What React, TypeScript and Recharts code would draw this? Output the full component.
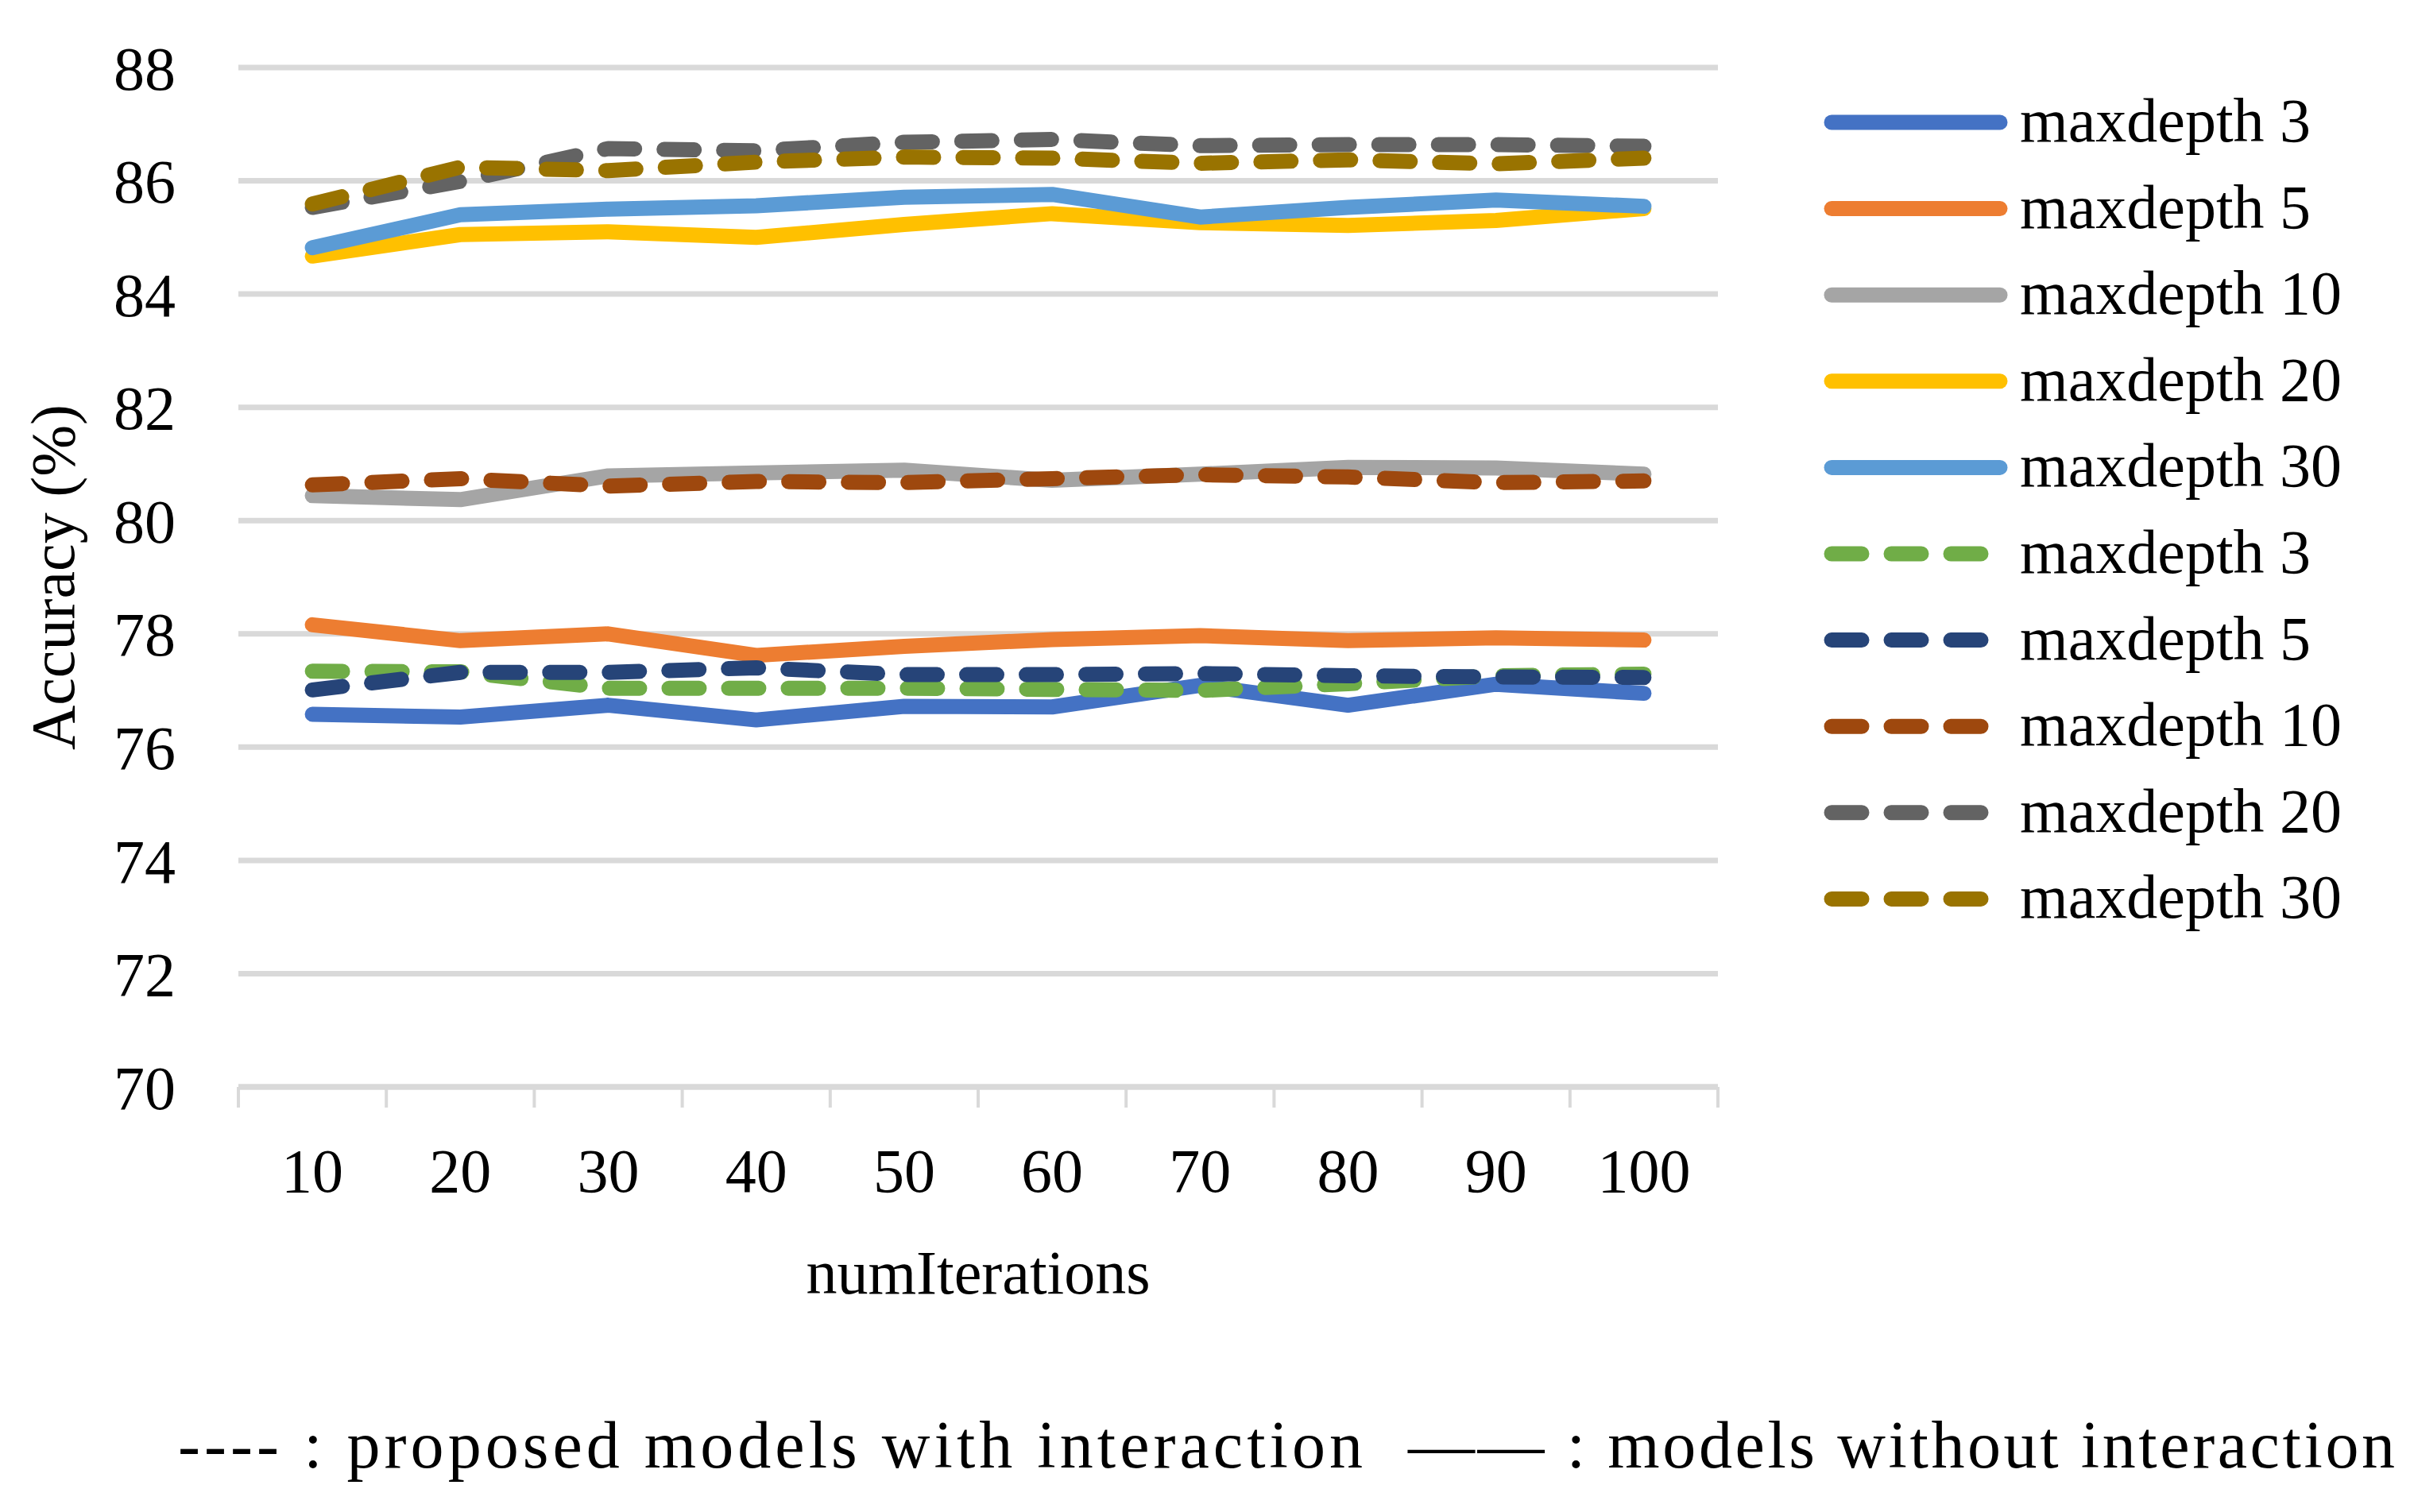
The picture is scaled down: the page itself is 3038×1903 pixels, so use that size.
import { LineChart, Line, XAxis, YAxis, CartesianGrid } from 'recharts';

// numIterations on the x axis
const iterations = [10, 20, 30, 40, 50, 60, 70, 80, 90, 100];
const accuracyTicks = [70, 72, 74, 76, 78, 80, 82, 84, 86, 88];

// models without interaction (solid lines)
const plainDepth3 = [76.58, 76.53, 76.74, 76.48, 76.72, 76.71, 77.09, 76.74, 77.11, 76.95];
const plainDepth5 = [78.16, 77.88, 78.0, 77.62, 77.78, 77.9, 77.97, 77.88, 77.93, 77.89];
const plainDepth10 = [80.44, 80.37, 80.79, 80.84, 80.89, 80.71, 80.82, 80.94, 80.93, 80.82];
const plainDepth20 = [84.67, 85.05, 85.1, 85.0, 85.23, 85.42, 85.26, 85.21, 85.3, 85.51];
const plainDepth30 = [84.82, 85.4, 85.5, 85.56, 85.71, 85.76, 85.36, 85.53, 85.66, 85.55];

// proposed models with interaction (dashed lines)
const interDepth3 = [77.34, 77.33, 77.04, 77.04, 77.04, 77.02, 77.0, 77.12, 77.26, 77.29];
const interDepth5 = [77.01, 77.32, 77.32, 77.4, 77.28, 77.28, 77.3, 77.26, 77.24, 77.23];
const interDepth10 = [80.63, 80.74, 80.61, 80.69, 80.67, 80.74, 80.81, 80.77, 80.67, 80.7];
const interDepth20 = [85.53, 85.99, 86.57, 86.53, 86.68, 86.73, 86.62, 86.64, 86.64, 86.61];
const interDepth30 = [85.59, 86.24, 86.18, 86.33, 86.42, 86.4, 86.31, 86.37, 86.3, 86.4];

const series = [
  { key: 'plain3', name: 'maxdepth 3', values: plainDepth3, color: '#4472c4', dashed: false },
  { key: 'plain5', name: 'maxdepth 5', values: plainDepth5, color: '#ed7d31', dashed: false },
  { key: 'plain10', name: 'maxdepth 10', values: plainDepth10, color: '#a5a5a5', dashed: false },
  { key: 'plain20', name: 'maxdepth 20', values: plainDepth20, color: '#ffc000', dashed: false },
  { key: 'plain30', name: 'maxdepth 30', values: plainDepth30, color: '#5b9bd5', dashed: false },
  { key: 'inter3', name: 'maxdepth 3', values: interDepth3, color: '#70ad47', dashed: true },
  { key: 'inter5', name: 'maxdepth 5', values: interDepth5, color: '#264478', dashed: true },
  { key: 'inter10', name: 'maxdepth 10', values: interDepth10, color: '#9e480e', dashed: true },
  { key: 'inter20', name: 'maxdepth 20', values: interDepth20, color: '#636363', dashed: true },
  { key: 'inter30', name: 'maxdepth 30', values: interDepth30, color: '#997300', dashed: true },
];

const data = iterations.map((it, i) => {
  const row: Record<string, number> = { iterations: it };
  series.forEach((s) => {
    row[s.key] = s.values[i];
  });
  return row;
});

const W = 3038;
const H = 1903;
const PLOT_LEFT = 300;
const PLOT_RIGHT = 2162;
const PLOT_TOP = 85;
const PLOT_BOTTOM = 1368;
const BAND = (PLOT_RIGHT - PLOT_LEFT) / iterations.length;
const FONT = '"Liberation Serif", "DejaVu Serif", serif';
const FS = 78;
const GRID = '#d9d9d9';
const LINE_W = 19;
const DASH = '38 37';

function IterationTick(props: any) {
  const { x, y, payload, index } = props;
  const half = BAND / 2;
  return (
    <g>
      <line x1={x - half} x2={x - half} y1={y} y2={y + 26} stroke={GRID} strokeWidth={4} />
      {index === iterations.length - 1 && (
        <line x1={x + half} x2={x + half} y1={y} y2={y + 26} stroke={GRID} strokeWidth={4} />
      )}
      <text x={x} y={y + 132} textAnchor="middle" fontSize={FS} fill="#000">
        {payload.value}
      </text>
    </g>
  );
}

function xTitle(props: any) {
  const { viewBox } = props;
  return (
    <text x={viewBox.x + viewBox.width / 2} y={viewBox.y + 260} textAnchor="middle" fontSize={FS} fill="#000">
      numIterations
    </text>
  );
}

function yTitle(props: any) {
  const { viewBox } = props;
  const cx = viewBox.x + 66;
  const cy = viewBox.y + viewBox.height / 2;
  return (
    <text
      x={cx}
      y={cy}
      transform={`rotate(-90 ${cx} ${cy})`}
      textAnchor="middle"
      dominantBaseline="central"
      fontSize={FS}
      fill="#000"
    >
      Accuracy (%)
    </text>
  );
}

function SideLegend() {
  const x0 = 2305;
  const x1 = 2517;
  return (
    <g>
      {series.map((s, i) => {
        const cy = 154 + i * 108.6;
        return (
          <g key={s.key}>
            <line
              x1={x0}
              x2={s.dashed ? 2494 : x1}
              y1={cy}
              y2={cy}
              stroke={s.color}
              strokeWidth={LINE_W}
              strokeLinecap="round"
              strokeDasharray={s.dashed ? DASH : undefined}
            />
            <text x={2542} y={cy + 24} fontSize={FS} fill="#000">
              {s.name}
            </text>
          </g>
        );
      })}
    </g>
  );
}

export default function App() {
  return (
    <div style={{ position: 'absolute', left: 0, top: 0, width: W, height: H, background: '#fff', fontFamily: FONT }}>
      <LineChart
        width={W}
        height={H}
        data={data}
        margin={{ top: PLOT_TOP, right: W - PLOT_RIGHT, bottom: H - PLOT_BOTTOM - 200, left: 0 }}
      >
        <CartesianGrid vertical={false} stroke={GRID} strokeWidth={7} />
        <XAxis
          dataKey="iterations"
          type="category"
          scale="point"
          padding={{ left: BAND / 2, right: BAND / 2 }}
          height={200}
          interval={0}
          tickLine={false}
          tickSize={0}
          tickMargin={0}
          axisLine={{ stroke: GRID, strokeWidth: 7 }}
          tick={<IterationTick />}
          label={xTitle}
        />
        <YAxis
          type="number"
          domain={[70, 88]}
          ticks={accuracyTicks}
          interval={0}
          width={PLOT_LEFT}
          axisLine={false}
          tickLine={false}
          tickSize={0}
          tickMargin={79}
          tick={{ fontSize: FS, fill: '#000' }}
          label={yTitle}
        />
        {series.map((s) => (
          <Line
            key={s.key}
            type="linear"
            dataKey={s.key}
            name={s.name}
            stroke={s.color}
            strokeWidth={LINE_W}
            strokeLinecap="round"
            strokeLinejoin="round"
            strokeDasharray={s.dashed ? DASH : undefined}
            dot={false}
            activeDot={false}
            isAnimationActive={false}
          />
        ))}
      </LineChart>
      <svg
        width={W}
        height={H}
        style={{ position: 'absolute', left: 0, top: 0, pointerEvents: 'none' }}
      >
        <SideLegend />
        <text x={224} y={1847} fontSize={84} fill="#000" textLength={1491} lengthAdjust="spacing">
          ---- : proposed models with interaction
        </text>
        <text x={1772} y={1847} fontSize={84} fill="#000" textLength={1242} lengthAdjust="spacing">
          —— : models without interaction
        </text>
      </svg>
    </div>
  );
}
